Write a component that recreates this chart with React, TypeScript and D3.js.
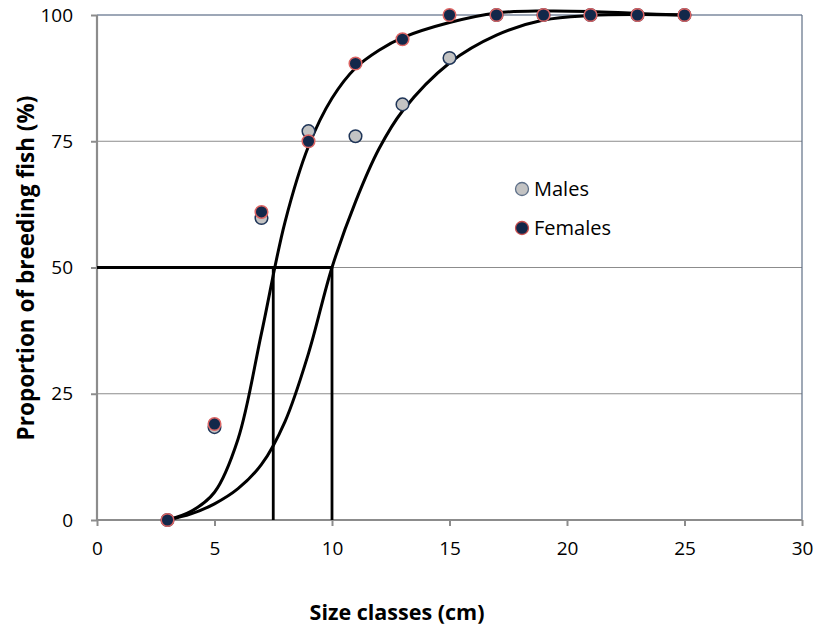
import * as d3 from 'd3';
import React, { useRef, useEffect } from 'react';

// observed proportions per size class
const sizeClasses = [3, 5, 7, 9, 11, 13, 15, 17, 19, 21, 23, 25];
const malesValues = [0, 18.4, 59.8, 77, 76, 82.3, 91.5, 100, 100, 100, 100, 100];
const femalesValues = [0, 19, 61, 75, 90.4, 95.2, 100, 100, 100, 100, 100, 100];

// fitted maturity curves
const fitSizes = [3, 4, 5, 6, 7, 8, 9, 10, 11, 12, 13, 15, 17, 19, 21, 23, 25];
const femalesFit = [0, 1.7, 5.5, 16, 37, 59, 74, 83.5, 89.5, 93, 95.5, 98.5, 100.4, 100.8, 100.7, 100.3, 100];
const malesFit = [0, 1.2, 3.2, 6.2, 11, 19.5, 33, 50, 63, 73.5, 81, 90.5, 96, 99, 99.9, 100.1, 100];

// size at 50% maturity
const l50Females = 7.5;
const l50Males = 10;

const xTicks = [0, 5, 10, 15, 20, 25, 30];
const yTicks = [0, 25, 50, 75, 100];

const font = '"Open Sans", "Noto Sans", sans-serif';

function MaturityChart() {
  const svgWidth = 817;
  const svgHeight = 630;
  const left = 97;
  const right = 802;
  const top = 15;
  const bottom = 520;
  const svgRef = useRef<SVGSVGElement>(null);

  useEffect(() => {
    const svg = d3.select(svgRef.current);
    svg.selectAll('*').remove();

    const xScale = d3.scaleLinear().domain([0, 30]).range([left, right]);
    const yScale = d3.scaleLinear().domain([0, 100]).range([bottom, top]);

    // gridlines
    svg
      .append('g')
      .selectAll('line')
      .data(yTicks.filter((t) => t > 0 && t < 100))
      .join('line')
      .attr('x1', left)
      .attr('x2', right)
      .attr('y1', (d) => yScale(d))
      .attr('y2', (d) => yScale(d))
      .attr('stroke', '#8c8c8c')
      .attr('stroke-width', 1);

    // top and right frame
    svg
      .append('line')
      .attr('x1', left)
      .attr('x2', right)
      .attr('y1', yScale(100))
      .attr('y2', yScale(100))
      .attr('stroke', '#3d5170')
      .attr('stroke-width', 1.2);
    svg
      .append('line')
      .attr('x1', right)
      .attr('x2', right)
      .attr('y1', yScale(100))
      .attr('y2', yScale(0))
      .attr('stroke', '#5f6f85')
      .attr('stroke-width', 1.2);

    // axes
    const xAxis = d3.axisBottom(xScale).tickValues(xTicks).tickSize(6).tickPadding(16);
    const gx = svg.append('g').attr('transform', `translate(0,${bottom})`).call(xAxis);
    gx.select('.domain').attr('stroke', '#8c8c8c').attr('stroke-width', 2.2).attr('d', `M${left},0H${right}`);
    gx.selectAll('.tick line').attr('stroke', '#8c8c8c').attr('stroke-width', 2);
    gx.selectAll('.tick text')
      .attr('fill', '#000')
      .style('font-family', font)
      .style('font-size', '19px');

    const yAxis = d3.axisLeft(yScale).tickValues(yTicks).tickSize(6).tickPadding(18);
    const gy = svg.append('g').attr('transform', `translate(${left},0)`).call(yAxis);
    gy.select('.domain').attr('stroke', '#8c8c8c').attr('stroke-width', 2.2).attr('d', `M0,${top}V${bottom}`);
    gy.selectAll('.tick line').attr('stroke', '#8c8c8c').attr('stroke-width', 2);
    gy.selectAll('.tick text')
      .attr('fill', '#000')
      .style('font-family', font)
      .style('font-size', '19px');

    // 50% reference lines
    const refPath = d3
      .line<[number, number]>()
      .x((d) => xScale(d[0]))
      .y((d) => yScale(d[1]));
    const refs: [number, number][][] = [
      [
        [0, 50],
        [l50Males, 50],
      ],
      [
        [l50Females, 50],
        [l50Females, 0],
      ],
      [
        [l50Males, 50],
        [l50Males, 0],
      ],
    ];
    svg
      .append('g')
      .selectAll('path')
      .data(refs)
      .join('path')
      .attr('d', (d) => refPath(d))
      .attr('fill', 'none')
      .attr('stroke', '#000')
      .attr('stroke-width', 2.8);

    // fitted curves
    const curve = d3
      .line<number>()
      .x((d, i) => xScale(fitSizes[i]))
      .y((d) => yScale(d))
      .curve(d3.curveCatmullRom.alpha(0.5));
    svg
      .append('g')
      .selectAll('path')
      .data([femalesFit, malesFit])
      .join('path')
      .attr('d', (d) => curve(d))
      .attr('fill', 'none')
      .attr('stroke', '#000')
      .attr('stroke-width', 3);

    // observed points
    svg
      .append('g')
      .selectAll('circle')
      .data(malesValues)
      .join('circle')
      .attr('cx', (d, i) => xScale(sizeClasses[i]))
      .attr('cy', (d) => yScale(d))
      .attr('r', 6.3)
      .attr('fill', '#c3c3c3')
      .attr('stroke', '#1f3558')
      .attr('stroke-width', 1.5);
    svg
      .append('g')
      .selectAll('circle')
      .data(femalesValues)
      .join('circle')
      .attr('cx', (d, i) => xScale(sizeClasses[i]))
      .attr('cy', (d) => yScale(d))
      .attr('r', 6.3)
      .attr('fill', '#13284a')
      .attr('stroke', '#dc6463')
      .attr('stroke-width', 1.5);

    // legend
    const legend = [
      { label: 'Males', fill: '#c3c3c3', stroke: '#5d6f88', y: 189 },
      { label: 'Females', fill: '#13284a', stroke: '#c9504f', y: 228 },
    ];
    const lg = svg.append('g').selectAll('g').data(legend).join('g');
    lg.append('circle')
      .attr('cx', 522)
      .attr('cy', (d) => d.y)
      .attr('r', 6.5)
      .attr('fill', (d) => d.fill)
      .attr('stroke', (d) => d.stroke)
      .attr('stroke-width', 1.3);
    lg.append('text')
      .attr('x', 534)
      .attr('y', (d) => d.y)
      .attr('dy', '0.36em')
      .style('font-family', font)
      .style('font-size', '20px')
      .text((d) => d.label);

    // axis titles
    svg
      .append('text')
      .attr('x', 397)
      .attr('y', 620)
      .attr('text-anchor', 'middle')
      .style('font-family', font)
      .style('font-size', '21.5px')
      .style('font-weight', 'bold')
      .text('Size classes (cm)');
    svg
      .append('text')
      .attr('transform', `translate(34,268) rotate(-90)`)
      .attr('text-anchor', 'middle')
      .style('font-family', font)
      .style('font-size', '22.5px')
      .style('font-weight', 'bold')
      .text('Proportion of breeding fish (%)');
  }, []);

  return (
    <svg
      width={svgWidth}
      height={svgHeight}
      ref={svgRef}
      style={{ position: 'absolute', left: 0, top: 0, background: '#fff' }}
    />
  );
}

export default function App() {
  return <MaturityChart />;
}
